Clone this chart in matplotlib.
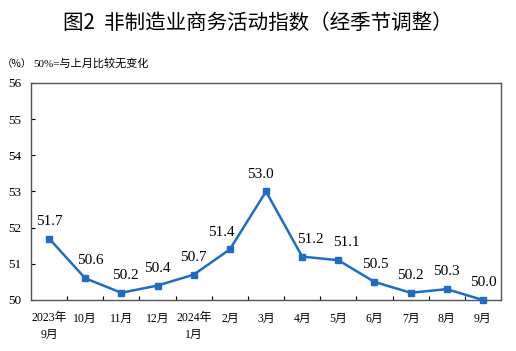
import numpy as np
import matplotlib
matplotlib.use('Agg')
import matplotlib.pyplot as plt

plt.rcParams['font.family'] = ['Liberation Serif', 'Noto Sans CJK SC']

months = ['2023年\n9月', '10月', '11月', '12月', '2024年\n1月', '2月', '3月',
          '4月', '5月', '6月', '7月', '8月', '9月']
values = [51.7, 50.6, 50.2, 50.4, 50.7, 51.4, 53.0, 51.2, 51.1, 50.5, 50.2, 50.3, 50.0]
yticks = [50, 51, 52, 53, 54, 55, 56]

# horizontal nudge of the value labels (points), to keep them off the line
label_dx = [0, 4, 3, 0, 0, -6, -4, 6, 6, 1, 0, 0, 0]

color = '#1f6cc4'

fig = plt.figure(figsize=(5.16, 3.51), dpi=100)
ax = fig.add_axes([31 / 516, 51 / 351, 470 / 516, 217 / 351])

x = np.arange(len(values))
ax.plot(x, values, color=color, lw=1.8, marker='s', ms=4.5, clip_on=False, zorder=3)

for xi, v, dx in zip(x, values, label_dx):
    ax.annotate('{:.1f}'.format(v), (xi, v), xytext=(dx, 12.5), textcoords='offset points',
                ha='center', va='center', fontsize=11, family='Liberation Serif')

ax.set_xlim(-0.5, len(values) - 0.5)
ax.set_ylim(50, 56)
ax.set_yticks(yticks)
ax.set_yticklabels([str(t) for t in yticks], fontsize=9.5)
ax.tick_params(axis='y', direction='in', length=3, width=0.8, pad=7)

# category boundaries as tick marks
ax.set_xticks(np.arange(0.5, len(values) - 1, 1.0), minor=False)
ax.set_xticklabels([])
ax.tick_params(axis='x', which='major', direction='in', length=3, width=0.8)
ax.set_xticks(x, minor=True)
ax.set_xticklabels(months, minor=True, fontsize=8.5, linespacing=1.45)
ax.tick_params(axis='x', which='minor', length=0, pad=9)

for s in ax.spines.values():
    s.set_color('#555555')
    s.set_linewidth(1.0)

fig.text(0.5, 0.935, '图2  非制造业商务活动指数（经季节调整）', ha='center', va='center',
         fontsize=14.8, family=['Noto Sans CJK SC'])
fig.text(0.003, 0.818, '（%）', ha='left', va='center', fontsize=7.5, family=['Noto Sans CJK SC'])
fig.text(0.064, 0.818, '50%=与上月比较无变化', ha='left', va='center', fontsize=8)

fig.savefig('out.png', dpi=100)
